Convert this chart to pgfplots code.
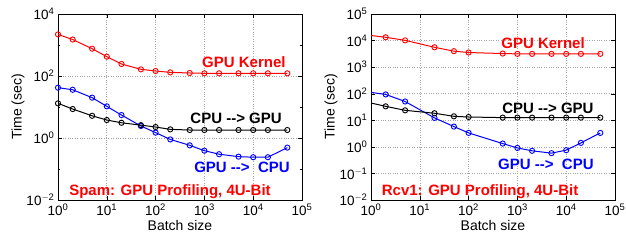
\documentclass[border=0pt]{standalone}
\usepackage{fontspec}
\setmainfont{Liberation Sans}
\usepackage{pgfplots}
\pgfplotsset{compat=1.18}
\begin{document}
\begin{tikzpicture}
\pgfplotsset{
  every axis/.style={
    xmode=log, ymode=log, log basis x=10, log basis y=10,
    scale only axis, width=244pt, height=186pt,
    xmin=1, xmax=1e5,
    xtick={1,10,100,1000,10000,100000},
    xticklabels={10\textsuperscript{0},10\textsuperscript{1},10\textsuperscript{2},10\textsuperscript{3},10\textsuperscript{4},10\textsuperscript{5}},
    grid=major,
    major grid style={dotted, gray!70, line width=0.6pt},
    tick align=inside,
    major tick length=4pt, minor tick length=2pt,
    every tick/.style={black, line width=0.4pt},
    tick label style={font=\fontsize{13.5}{13.5}\selectfont},
    label style={font=\fontsize{14}{14}\selectfont},
    xlabel={Batch size}, ylabel={Time (sec)},
    xlabel style={yshift=2pt},
    ylabel style={yshift=-5pt},
    axis line style={black, line width=0.8pt},
    every axis plot/.append style={line width=1pt, mark=o, mark size=2.6pt, mark options={line width=0.9pt}},
  }
}
\begin{axis}[at={(0,0)},
  ymin=1e-2, ymax=1e4,
  ytick={1e-2,1,1e2,1e4},
  yticklabels={10\textsuperscript{$-$2},10\textsuperscript{0},10\textsuperscript{2},10\textsuperscript{4}},
  minor ytick={1e-1,10,1e3},
]
\addplot[red] coordinates {(1,2200)(2,1500)(5,760)(10,420)(20,244)(50,164)(100,145)(200,131)(500,125)(1000,122)(2000,122)(5000,122)(10000,122)(20000,122)(50000,122)};
\addplot[blue] coordinates {(1,42)(2,36)(5,20)(10,10.5)(20,5.5)(50,2.44)(100,1.49)(200,0.9)(500,0.58)(1000,0.39)(2000,0.30)(5000,0.25)(10000,0.24)(20000,0.24)(50000,0.49)};
\addplot[black] coordinates {(1,13.1)(2,8.6)(5,5.2)(10,3.8)(20,3.1)(50,2.6)(100,2.26)(200,1.9)(500,1.81)(1000,1.81)(2000,1.81)(5000,1.81)(10000,1.81)(20000,1.81)(50000,1.81)};
\node[red, font=\bfseries\fontsize{15}{15}\selectfont] at (rel axis cs:0.762,0.742) {GPU Kernel};
\node[black, font=\bfseries\fontsize{15}{15}\selectfont] at (rel axis cs:0.73,0.441) {CPU {-}{-}> GPU};
\node[blue, font=\bfseries\fontsize{15}{15}\selectfont] at (rel axis cs:0.754,0.177) {GPU {-}{-}>~ CPU};
\node[red, font=\bfseries\fontsize{15}{15}\selectfont] at (rel axis cs:0.459,0.043) {Spam: GPU Profiling, 4U{-}Bit};
\end{axis}
\begin{axis}[at={(313pt,0)},
  ymin=1e-2, ymax=1e5,
  ytick={1e-2,1e-1,1,10,1e2,1e3,1e4,1e5},
  yticklabels={10\textsuperscript{$-$2},10\textsuperscript{$-$1},10\textsuperscript{0},10\textsuperscript{1},10\textsuperscript{2},10\textsuperscript{3},10\textsuperscript{4},10\textsuperscript{5}},
]
\addplot[red, mark indices={2,...,13}] coordinates {(1,15500)(2,13300)(5,10200)(20,5600)(50,4000)(100,3550)(500,3250)(1000,3160)(2000,3160)(5000,3160)(10000,3160)(20000,3160)(50000,3160)};
\addplot[blue, mark indices={2,...,13}] coordinates {(1,112)(2,94)(5,51)(20,12.3)(50,5.8)(100,3.35)(500,1.33)(1000,0.91)(2000,0.71)(5000,0.58)(10000,0.75)(20000,1.41)(50000,3.35)};
\addplot[black, mark indices={2,...,13}] coordinates {(1,44.7)(2,33.5)(5,23.7)(20,18.4)(50,14.1)(100,13.3)(500,12.6)(1000,12.6)(2000,12.6)(5000,12.6)(10000,12.6)(20000,12.6)(50000,12.6)};
\node[red, font=\bfseries\fontsize{15}{15}\selectfont] at (rel axis cs:0.705,0.844) {GPU Kernel};
\node[black, font=\bfseries\fontsize{15}{15}\selectfont] at (rel axis cs:0.725,0.495) {CPU {-}{-}> GPU};
\node[blue, font=\bfseries\fontsize{15}{15}\selectfont] at (rel axis cs:0.717,0.194) {GPU {-}{-}>~ CPU};
\node[red, font=\bfseries\fontsize{15}{15}\selectfont] at (rel axis cs:0.447,0.043) {Rcv1: GPU Profiling, 4U{-}Bit};
\end{axis}
\pgfresetboundingbox
\path (-58pt,-43pt) rectangle (568pt,200pt);
\end{tikzpicture}
\end{document}
